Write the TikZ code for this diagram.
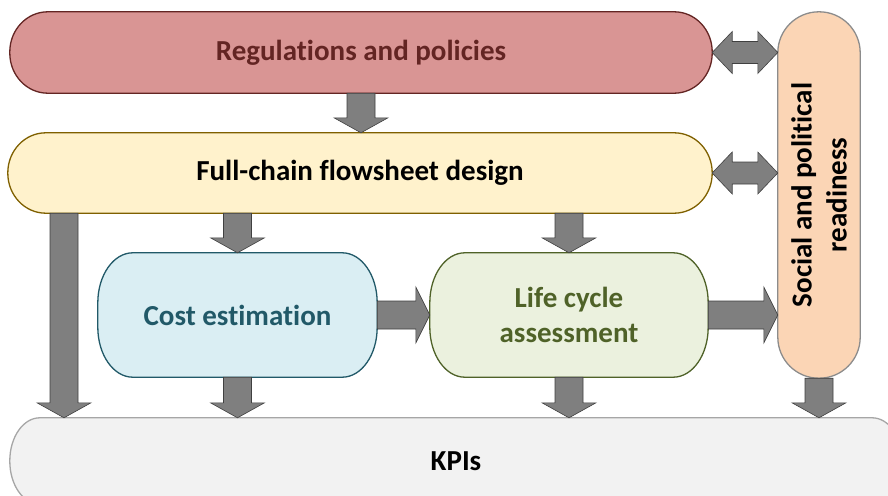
\documentclass[tikz,border=0pt]{standalone}
\usepackage{fontspec}
\setmainfont{Carlito}[Ligatures=CommonOff]
\usetikzlibrary{calc,backgrounds}

\definecolor{regfill}{HTML}{D99594}
\definecolor{regline}{HTML}{632523}
\definecolor{fullfill}{HTML}{FFF2CC}
\definecolor{fullline}{HTML}{7F6000}
\definecolor{costfill}{HTML}{DAEEF3}
\definecolor{costline}{HTML}{215968}
\definecolor{lcafill}{HTML}{EBF1DE}
\definecolor{lcaline}{HTML}{4F6228}
\definecolor{socfill}{HTML}{FBD5B5}
\definecolor{kpifill}{HTML}{F2F2F2}
\definecolor{arrowgray}{HTML}{7F7F7F}
\definecolor{arrowline}{HTML}{404040}

\newcommand\boxoutline[4]{%
  \draw[line width=1.3pt, #4]
    ($(#1.north west)+(#2,0)$) -- ($(#1.north east)+(-#2,0)$)
    arc[start angle=90, end angle=0, x radius=#2, y radius=#3]
    -- ($(#1.south east)+(0,#3)$)
    arc[start angle=0, end angle=-90, x radius=#2, y radius=#3]
    -- ($(#1.south west)+(#2,0)$)
    arc[start angle=-90, end angle=-180, x radius=#2, y radius=#3]
    -- ($(#1.north west)+(0,-#3)$)
    arc[start angle=180, end angle=90, x radius=#2, y radius=#3] -- cycle;}

\tikzset{
  box/.style={inner sep=0pt, align=center, font=\bfseries\fontsize{29}{35}\selectfont},
  downarrow/.style={draw=arrowline, fill=arrowgray, line width=0.6pt,
    to path={let \p1=(\tikztostart), \p2=(\tikztotarget) in
      (\x1-14pt,\y1) -- (\x1-14pt,\y2+15pt) -- (\x1-27pt,\y2+15pt) -- (\x1,\y2)
      -- (\x1+27pt,\y2+15pt) -- (\x1+14pt,\y2+15pt) -- (\x1+14pt,\y1) -- cycle}},
  rightarrow/.style={draw=arrowline, fill=arrowgray, line width=0.6pt,
    to path={let \p1=(\tikztostart), \p2=(\tikztotarget) in
      (\x1,\y1+14pt) -- (\x2-14pt,\y1+14pt) -- (\x2-14pt,\y1+28pt) -- (\x2,\y1)
      -- (\x2-14pt,\y1-28pt) -- (\x2-14pt,\y1-14pt) -- (\x1,\y1-14pt) -- cycle}},
  botharrow/.style={draw=arrowline, fill=arrowgray, line width=0.6pt,
    to path={let \p1=(\tikztostart), \p2=(\tikztotarget) in
      (\x1,\y1) -- (\x1+20pt,\y1+21pt) -- (\x1+20pt,\y1+11pt) -- (\x2-20pt,\y1+11pt)
      -- (\x2-20pt,\y1+21pt) -- (\x2,\y1) -- (\x2-20pt,\y1-21pt) -- (\x2-20pt,\y1-11pt)
      -- (\x1+20pt,\y1-11pt) -- (\x1+20pt,\y1-21pt) -- cycle}},
}

\begin{document}
\begin{tikzpicture}[x=1pt,y=-1pt]
  \clip (0,0) rectangle (888,495);

  \node[box, text=regline, minimum width=702pt, minimum height=81pt] (reg) at (361,52.5) {Regulations and policies};
  \node[box, minimum width=704pt, minimum height=80pt] (full) at (360,173) {Full-chain flowsheet design};
  \node[box, text=costline, minimum width=279pt, minimum height=124pt] (cost) at (237.5,315) {Cost estimation};
  \node[box, text=lcaline, minimum width=278pt, minimum height=124pt] (lca) at (569,315) {Life cycle\\assessment};
  \node[box, minimum width=82pt, minimum height=366pt] (social) at (819,195) {};
  \node[box, rotate=90] (soctext) at (social) {Social and political\\readiness};
  \node[box, minimum width=892pt, minimum height=86pt] (kpis) at (456,461) {KPIs};

  \begin{scope}[on background layer]
    \boxoutline{reg}{38pt}{40pt}{draw=regline, fill=regfill}
    \boxoutline{full}{38pt}{40pt}{draw=fullline, fill=fullfill}
    \boxoutline{cost}{35pt}{50pt}{draw=costline, fill=costfill}
    \boxoutline{lca}{35pt}{50pt}{draw=lcaline, fill=lcafill}
    \boxoutline{social}{41pt}{41pt}{draw=black!45, fill=socfill}
    \boxoutline{kpis}{30pt}{43pt}{draw=black!35, fill=kpifill}
  \end{scope}

  \coordinate (side) at (64,0);

  \draw[downarrow] (reg.south) to (full.north);
  \draw[downarrow] (full.south -| cost.north) to (cost.north);
  \draw[downarrow] (full.south -| lca.north) to (lca.north);
  \draw[downarrow] (full.south -| side) to (kpis.north -| side);
  \foreach \nm in {cost,lca,social}
    \draw[downarrow] (\nm.south) to (kpis.north -| \nm.south);

  \draw[rightarrow] (cost.east) to (lca.west);
  \draw[rightarrow] (lca.east) to (lca.east -| social.west);

  \draw[botharrow] (reg.east) to (reg.east -| social.west);
  \draw[botharrow] (full.east) to (full.east -| social.west);
\end{tikzpicture}
\end{document}
